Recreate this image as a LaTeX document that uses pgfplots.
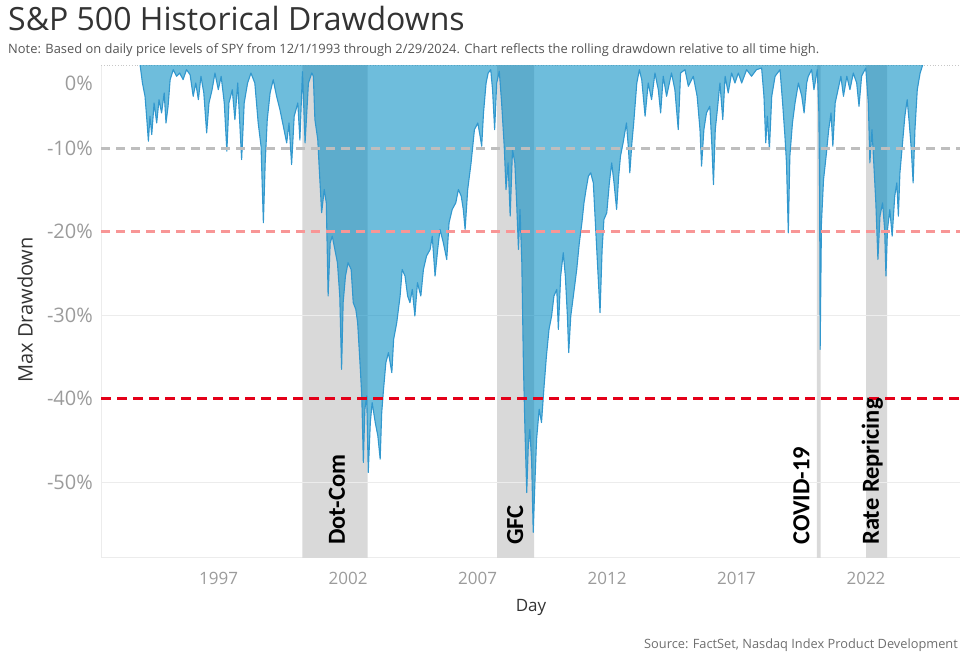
\documentclass[border=0pt]{standalone}
\usepackage{pgfplots}
\pgfplotsset{compat=1.18}
\usepackage{pgfplotstable}
\usepackage{fontspec}
\setmainfont{Open Sans}
\newfontfamily\lab{Carlito}
\definecolor{areafill}{RGB}{5,141,195}
\definecolor{arealine}{RGB}{50,152,206}
\definecolor{titlec}{RGB}{51,51,51}
\definecolor{notec}{RGB}{85,85,85}
\definecolor{tickc}{RGB}{155,155,155}
\definecolor{labc}{RGB}{51,51,51}
\definecolor{srcc}{RGB}{110,110,110}
\definecolor{bandc}{RGB}{217,217,217}
\definecolor{gridc}{RGB}{236,236,236}
\definecolor{dgray}{RGB}{190,190,190}
\definecolor{dpink}{RGB}{248,150,150}
\definecolor{dred}{RGB}{228,0,25}

\pgfplotstableread{
year dd
1993.97 0
1994.06 -2.16
1994.16 -3.75
1994.24 -6.95
1994.29 -9.14
1994.35 -6.14
1994.42 -8.35
1994.51 -4.55
1994.61 -6.95
1994.70 -4.16
1994.80 -5.75
1994.90 -3.35
1994.97 -6.95
1995.05 -4.95
1995.13 -1.76
1995.25 -0.56
1995.38 -1.35
1995.50 -0.96
1995.63 -1.76
1995.76 -0.56
1995.90 -1.16
1996.02 -3.75
1996.12 -2.16
1996.22 -4.16
1996.32 -1.35
1996.43 -3.35
1996.54 -8.14
1996.63 -4.55
1996.75 -2.96
1996.86 -0.96
1996.99 -2.96
1997.10 -1.35
1997.22 -4.55
1997.32 -10.34
1997.40 -4.55
1997.53 -2.96
1997.63 -6.55
1997.74 -2.16
1997.89 -11.34
1997.99 -4.55
1998.12 -2.16
1998.25 -0.96
1998.40 -2.16
1998.53 -6.95
1998.64 -9.74
1998.73 -18.92
1998.80 -11.74
1998.88 -6.55
1998.99 -3.35
1999.11 -1.76
1999.24 -3.75
1999.37 -5.35
1999.50 -7.34
1999.63 -9.34
1999.72 -6.95
1999.82 -11.94
1999.92 -6.14
2000.06 -4.55
2000.14 -9.00
2000.24 -0.80
2000.34 -9.34
2000.47 -2.16
2000.60 -0.96
2000.66 -1.35
2000.72 -6.55
2000.83 -8.95
2000.89 -12.54
2000.98 -17.72
2001.08 -14.93
2001.16 -16.53
2001.23 -27.70
2001.31 -21.32
2001.39 -20.52
2001.49 -22.12
2001.59 -23.71
2001.68 -27.70
2001.75 -36.49
2001.81 -28.50
2001.90 -25.31
2002.00 -23.71
2002.12 -24.52
2002.20 -28.50
2002.30 -29.31
2002.37 -30.90
2002.46 -35.69
2002.53 -39.68
2002.59 -47.66
2002.65 -41.28
2002.72 -39.68
2002.78 -48.86
2002.86 -42.87
2002.93 -40.48
2003.05 -42.87
2003.15 -44.47
2003.24 -47.27
2003.30 -41.68
2003.37 -38.89
2003.46 -35.69
2003.56 -34.49
2003.69 -36.89
2003.76 -32.90
2003.88 -30.90
2004.01 -27.70
2004.09 -24.52
2004.20 -25.31
2004.30 -27.70
2004.39 -28.50
2004.48 -26.91
2004.58 -30.10
2004.68 -26.11
2004.81 -27.70
2004.91 -24.52
2005.03 -22.91
2005.17 -22.12
2005.25 -20.52
2005.36 -25.31
2005.46 -22.12
2005.55 -19.72
2005.68 -21.32
2005.81 -23.32
2005.90 -18.92
2006.02 -17.33
2006.16 -16.53
2006.26 -14.93
2006.37 -15.72
2006.45 -17.33
2006.52 -19.72
2006.62 -14.93
2006.75 -11.74
2006.88 -7.75
2007.01 -6.95
2007.10 -8.54
2007.16 -9.74
2007.23 -5.75
2007.33 -2.16
2007.41 -0.96
2007.51 -0.56
2007.58 -2.96
2007.66 -7.75
2007.74 -2.16
2007.84 -0.75
2007.93 -4.55
2008.03 -9.74
2008.10 -14.93
2008.18 -11.74
2008.26 -18.12
2008.35 -10.14
2008.44 -11.74
2008.51 -16.53
2008.58 -22.12
2008.64 -17.33
2008.71 -23.71
2008.77 -35.69
2008.83 -43.68
2008.90 -51.26
2008.96 -45.66
2009.02 -43.68
2009.09 -47.66
2009.15 -56.05
2009.22 -49.66
2009.28 -44.87
2009.38 -41.28
2009.47 -42.87
2009.56 -38.89
2009.66 -34.89
2009.76 -31.70
2009.86 -30.10
2009.95 -27.70
2010.06 -26.91
2010.12 -31.70
2010.21 -25.31
2010.31 -22.51
2010.39 -25.31
2010.47 -30.10
2010.52 -34.49
2010.60 -30.10
2010.70 -27.70
2010.83 -24.52
2010.93 -21.32
2011.03 -18.92
2011.11 -16.53
2011.19 -14.93
2011.28 -13.33
2011.37 -12.93
2011.47 -14.13
2011.55 -18.92
2011.63 -23.71
2011.73 -29.70
2011.81 -22.12
2011.88 -18.53
2011.99 -17.72
2012.09 -14.13
2012.18 -11.74
2012.27 -14.13
2012.37 -17.33
2012.45 -13.33
2012.52 -10.93
2012.62 -9.34
2012.75 -6.95
2012.83 -10.14
2012.88 -12.93
2012.96 -9.34
2013.03 -6.95
2013.15 -2.16
2013.25 -0.56
2013.34 -1.76
2013.47 -6.14
2013.59 -2.16
2013.72 -4.16
2013.85 -0.96
2013.98 -2.96
2014.07 -5.75
2014.17 -1.35
2014.30 -3.75
2014.49 -0.96
2014.62 -2.96
2014.75 -7.75
2014.84 -0.96
2015.01 -0.56
2015.14 -2.55
2015.33 -1.35
2015.48 -3.75
2015.59 -7.75
2015.65 -12.13
2015.74 -7.75
2015.84 -5.75
2015.97 -4.95
2016.05 -9.74
2016.11 -14.34
2016.18 -7.75
2016.26 -5.35
2016.36 -2.16
2016.47 -6.55
2016.56 -1.35
2016.68 -3.35
2016.81 -0.96
2016.94 -2.16
2017.07 -0.96
2017.20 -2.16
2017.39 -0.56
2017.58 -1.35
2017.77 -0.56
2017.97 -0.36
2018.06 -3.75
2018.13 -9.34
2018.19 -6.14
2018.27 -10.14
2018.36 -3.75
2018.49 -1.35
2018.68 -0.56
2018.78 -4.55
2018.87 -8.54
2018.93 -11.74
2019.00 -20.12
2019.06 -10.93
2019.16 -6.95
2019.26 -4.55
2019.39 -2.16
2019.52 -3.75
2019.61 -5.75
2019.71 -2.16
2019.77 -1.35
2019.90 -0.56
2019.99 -2.96
2020.12 -0.56
2020.18 -5.75
2020.21 -15.72
2020.23 -34.10
2020.28 -18.92
2020.36 -13.74
2020.46 -10.93
2020.56 -7.75
2020.65 -5.75
2020.72 -9.74
2020.81 -4.55
2020.92 -2.96
2021.03 -1.35
2021.13 -3.75
2021.26 -1.35
2021.38 -2.96
2021.51 -0.96
2021.64 -2.16
2021.73 -4.95
2021.83 -1.35
2021.99 -0.36
2022.09 -4.55
2022.15 -11.74
2022.23 -7.75
2022.30 -11.74
2022.38 -16.53
2022.46 -23.32
2022.54 -18.12
2022.64 -16.53
2022.72 -19.72
2022.77 -25.31
2022.83 -19.72
2022.92 -17.33
2023.01 -20.52
2023.11 -15.72
2023.19 -14.13
2023.25 -18.12
2023.31 -12.93
2023.40 -9.74
2023.50 -6.14
2023.59 -4.16
2023.67 -6.95
2023.75 -10.14
2023.82 -14.13
2023.89 -7.75
2023.98 -2.96
2024.09 -0.96
2024.19 0
}\dd

\begin{document}
\begin{tikzpicture}
\useasboundingbox (0,0) rectangle (972pt,-659pt);
\begin{axis}[
  at={(101pt,-65pt)}, anchor=north west,
  scale only axis, width=859pt, height=492pt,
  xmin=1992.46, xmax=2025.63, ymin=-59, ymax=0,
  axis x line=bottom, axis y line=left,
  axis line style={-, draw=gridc, line width=0.8pt},
  major tick length=0pt,
  xtick={1997,2002,2007,2012,2017,2022},
  xticklabels={1997,2002,2007,2012,2017,2022},
  ytick={-50,-40,-30,-20,-10},
  yticklabels={-50\%,-40\%,-30\%,-20\%,-10\%},
  extra y ticks={0}, extra y tick labels={0\%},
  extra y tick style={yticklabel style={yshift=-18pt}},
  xticklabel style={font=\fontsize{17}{17}\selectfont, text=tickc, inner sep=0pt, anchor=north, yshift=-15pt},
  yticklabel style={font=\fontsize{20}{20}\selectfont, text=tickc, inner sep=0pt, anchor=east, xshift=-8pt},
  clip=true,
]
% shaded episodes
\addplot[fill=bandc, draw=none] coordinates {(2000.24,0) (2000.24,-60) (2002.76,-60) (2002.76,0)} \closedcycle;
\addplot[fill=bandc, draw=none] coordinates {(2007.76,0) (2007.76,-60) (2009.18,-60) (2009.18,0)} \closedcycle;
\addplot[fill=bandc, draw=none] coordinates {(2020.10,0) (2020.10,-60) (2020.25,-60) (2020.25,0)} \closedcycle;
\addplot[fill=bandc, draw=none] coordinates {(2022.00,0) (2022.00,-60) (2022.82,-60) (2022.82,0)} \closedcycle;
% grid lines
\addplot[gridc, line width=0.8pt] coordinates {(1992.46,-30) (2025.63,-30)};
\addplot[gridc, line width=0.8pt] coordinates {(1992.46,-50) (2025.63,-50)};
\addplot[black!22, line width=0.8pt, dotted] coordinates {(1992.46,0) (2025.63,0)};
% drawdown area
\addplot[fill=areafill, fill opacity=0.58, draw=none] table[x=year, y=dd] {\dd} \closedcycle;
\addplot[arealine, line width=1.1pt, line join=round] table[x=year, y=dd] {\dd};
% thresholds
\addplot[dgray, line width=2.6pt, dash pattern=on 9pt off 6pt] coordinates {(1992.46,-10) (2025.63,-10)};
\addplot[dpink, line width=2.6pt, dash pattern=on 9pt off 6pt] coordinates {(1992.46,-20) (2025.63,-20)};
\addplot[dred, line width=3pt, dash pattern=on 10pt off 6pt] coordinates {(1992.46,-40) (2025.63,-40)};
% episode labels
\node[rotate=90, anchor=base west, inner sep=0pt, font=\lab\bfseries\fontsize{24.5}{25}\selectfont] at (axis cs:2001.88,-57.55) {Dot-Com};
\node[rotate=90, anchor=base west, inner sep=0pt, font=\lab\bfseries\fontsize{24.5}{25}\selectfont] at (axis cs:2008.76,-57.55) {GFC};
\node[rotate=90, anchor=base west, inner sep=0pt, font=\lab\bfseries\fontsize{24.5}{25}\selectfont] at (axis cs:2019.81,-57.55) {COVID-19};
\node[rotate=90, anchor=base west, inner sep=0pt, font=\lab\bfseries\fontsize{24.5}{25}\selectfont] at (axis cs:2022.50,-57.55) {Rate Repricing};
\end{axis}
\node[anchor=base west, inner sep=0pt, text=titlec] at (8pt,-30pt) {\fontsize{32}{36}\selectfont S\&P 500 Historical Drawdowns};
\node[anchor=base west, inner sep=0pt, text=notec] at (8pt,-53pt) {\fontsize{12.9}{14}\selectfont Note: Based on daily price levels of SPY from 12/1/1993 through 2/29/2024. Chart reflects the rolling drawdown relative to all time high.};
\node[rotate=90, text=labc, inner sep=0pt] at (25pt,-310pt) {\fontsize{20}{24}\selectfont Max Drawdown};
\node[text=labc, inner sep=0pt] at (531pt,-607pt) {\fontsize{17}{20}\selectfont Day};
\node[anchor=base east, inner sep=0pt, text=srcc] at (958pt,-648pt) {\fontsize{12.8}{14}\selectfont Source: FactSet, Nasdaq Index Product Development};
\end{tikzpicture}
\end{document}
